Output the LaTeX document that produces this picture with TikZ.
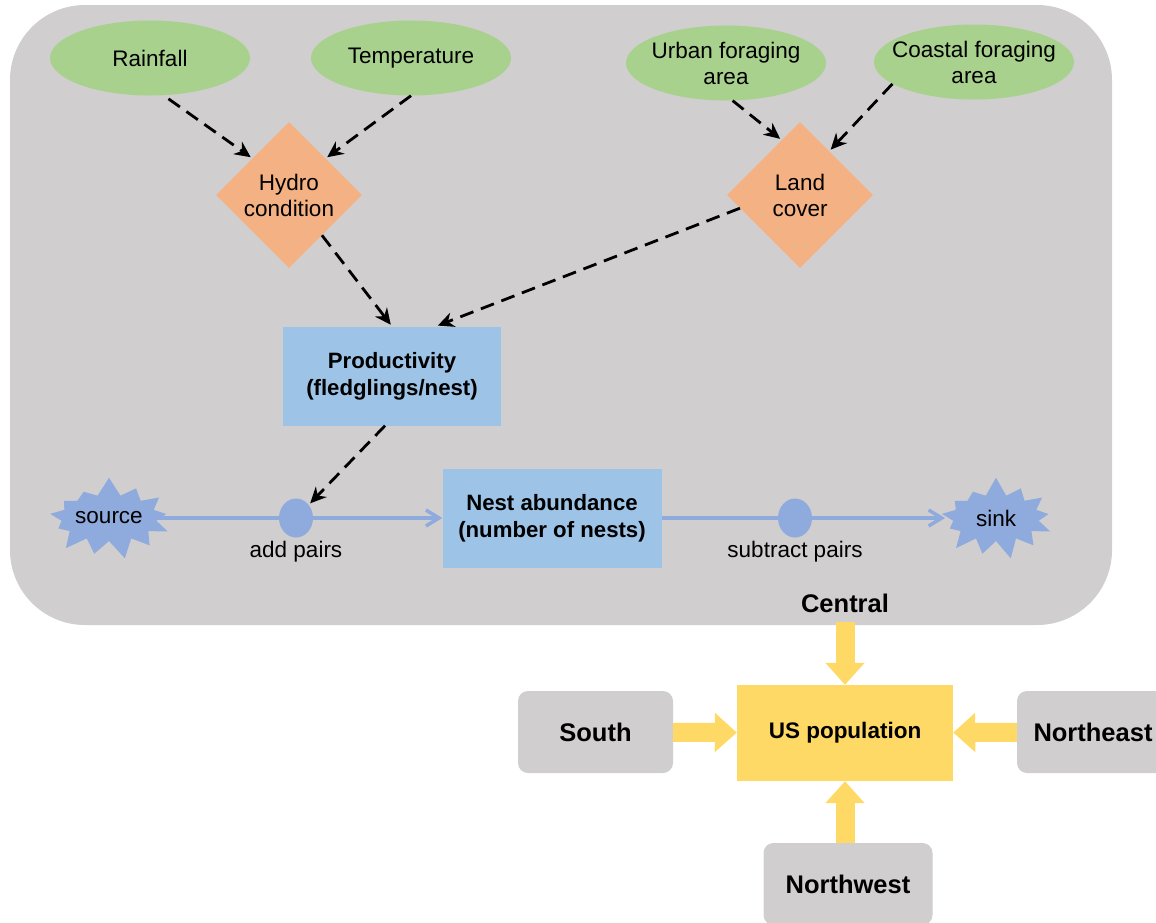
\documentclass[tikz,border=0pt]{standalone}
\usepackage{fontspec}
\setmainfont{Liberation Sans}
\usetikzlibrary{arrows.meta,shapes.geometric,shapes.symbols,calc}

\definecolor{panelgray}{HTML}{D0CECE}
\definecolor{drivergreen}{HTML}{A9D18E}
\definecolor{factororange}{HTML}{F4B183}
\definecolor{stockblue}{HTML}{9DC3E6}
\definecolor{flowblue}{HTML}{8FAADC}
\definecolor{popyellow}{HTML}{FFD966}

\begin{document}
\begin{tikzpicture}[x=1pt,y=-1pt,>=Stealth,
	font=\fontsize{22.5}{26}\selectfont]
	\tikzstyle{driver}=[ellipse,fill=drivergreen,minimum width=200pt,minimum height=75pt,
		inner xsep=-14pt,inner ysep=0pt,align=center]
	\tikzstyle{factor}=[diamond,fill=factororange,minimum width=146pt,minimum height=146pt,
		inner sep=0pt,align=center]
	\tikzstyle{stock}=[rectangle,fill=stockblue,minimum width=218pt,minimum height=99pt,
		align=center,font=\fontsize{22.2}{27}\selectfont\bfseries]
	\tikzstyle{burst}=[starburst,fill=flowblue,starburst points=13,starburst point height=19pt,
		random starburst=7,minimum width=124pt,minimum height=84pt,inner sep=0pt]
	\tikzstyle{valve}=[ellipse,fill=flowblue,minimum width=34pt,minimum height=39pt,inner sep=0pt]
	\tikzstyle{region}=[rectangle,rounded corners=10pt,fill=panelgray,minimum width=155pt,
		minimum height=82pt,font=\fontsize{25.5}{30}\selectfont\bfseries]
	\tikzstyle{influence}=[black,line width=2.8pt,dash pattern=on 14pt off 8pt,
		-{Stealth[length=16pt,width=15pt]},shorten >=2pt]
	\tikzstyle{flow}=[draw=flowblue,line width=3.5pt]
	\tikzstyle{migrate}=[draw=popyellow,line width=19pt,-{Triangle[length=22pt,width=38pt]}]
	
	\useasboundingbox (0,0) rectangle (1156,922);
	\fill[panelgray,rounded corners=75pt] (10,5) rectangle (1112,625);
	
	\node[driver] (rain)  at (150,58)  {Rainfall};
	\node[driver] (temp)  at (411,58)  {Temperature};
	\node[driver] (urban) at (726,63)  {Urban foraging\\area};
	\node[driver] (coast) at (974,62)  {Coastal foraging\\area};
	
	\node[factor] (hydro) at (289,195) {Hydro\\condition};
	\node[factor] (land)  at (800,195) {Land\\cover};
	
	\node[stock] (prod) at (392,376) {Productivity\\(fledglings/nest)};
	\node[stock, minimum width=219pt] (nest) at (552,518) {Nest abundance\\(number of nests)};
	
	\node[burst] (source) at (109,518) {source};
	\node[burst] (sink)   at (996,518) {sink};
	\node[valve, label={below:add pairs}]      (addp) at (296,518) {};
	\node[valve, label={below:subtract pairs}] (subp) at (795,518) {};
	
	\draw[influence, shorten <=6pt] (rain.290) -- (hydro.north west);
	\draw[influence] (temp.south) -- (hydro.north east);
	\draw[influence] (urban.-80) -- ($(land.north)!0.25!(land.west)$);
	\draw[influence] (coast.195) -- ($(land.north)!0.4!(land.east)$);
	\draw[influence] ($(hydro.south)!0.45!(hydro.east)$) -- (prod.north);
	\draw[influence] ($(land.west)!0.18!(land.south)$) -- ([xshift=44pt]prod.north);
	\draw[influence] ([xshift=-7pt]prod.south) -- (addp);
	
	\draw[flow] ([xshift=46pt]source.center) -- (addp);
	\draw[flow, -{Straight Barb[length=13pt,width=16pt]}] (addp) -- (nest);
	\draw[flow] (nest) -- (subp);
	\draw[flow, -{Straight Barb[length=13pt,width=16pt]}] (subp) -- ([xshift=-51pt]sink.center);
	
	\node[font=\fontsize{25.5}{30}\selectfont\bfseries] (central) at (845,603) {Central};
	\node[rectangle,fill=popyellow,minimum width=216pt,minimum height=96pt,
		font=\fontsize{22.5}{26}\selectfont\bfseries] (uspop) at (845,733) {US population};
	\node[region] (south)     at (595.5,732) {South};
	\node[region, minimum width=152pt] (northeast) at (1093,732) {Northeast};
	\node[region, minimum width=169pt] (northwest) at (848,884) {Northwest};
	
	\draw[migrate, shorten <=6pt] (central) -- (uspop);
	\draw[migrate] (south) -- (uspop);
	\draw[migrate] (northeast) -- (uspop);
	\draw[migrate] (uspop.south |- northwest.north) -- (uspop.south);
	
\end{tikzpicture}
\end{document}
